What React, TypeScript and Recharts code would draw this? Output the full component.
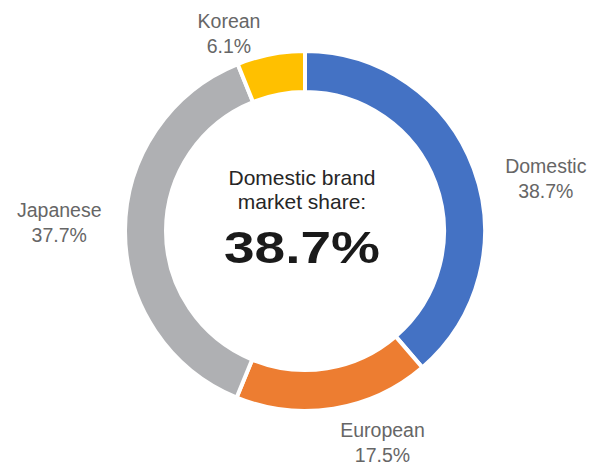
import React from "react";
import { PieChart, Pie, Cell } from "recharts";

// market share by brand origin (%)
const categories = ["Domestic", "European", "Japanese", "Korean"];
const shares = [38.7, 17.5, 37.7, 6.1];
const colors = ["#4472C4", "#ED7D31", "#AFB0B3", "#FFC000"];
const headline = ["Domestic brand", "market share:"];
const headlineValue = shares[0];

// label placement tweaks: angle shift (deg) and gap from ring (px)
const labelShift = [-8, 11, -2, 10];
const labelGap = [20, 11, 22, 2];

const data = categories.map((name, i) => ({ name, value: shares[i] }));

const W = 589;
const H = 464;
const CX = 305;
const CY = 231;
const RAD = Math.PI / 180;
const FONT = "'Liberation Sans', Arial, sans-serif";

const renderLabel = (props: any) => {
  const { cx, cy, midAngle, outerRadius, index } = props;
  const name: string = props.name ?? props.payload?.name;
  const value: number = props.value ?? props.payload?.value;
  const a = (midAngle + labelShift[index]) * RAD;
  const cos = Math.cos(a);
  const sin = Math.sin(a);
  const txt = value.toFixed(1) + "%";
  const w = Math.max(name.length, txt.length) * 10.8;
  const half = (Math.abs(cos) * w) / 2 + Math.abs(sin) * 20;
  const r = outerRadius + labelGap[index] + half;
  const x = cx + r * cos;
  const y = cy - r * sin;
  return (
    <text x={x} y={y} textAnchor="middle" fill="#666" fontSize={19.5} fontFamily={FONT}>
      <tspan x={x} y={y - 5}>{name}</tspan>
      <tspan x={x} y={y + 20}>{txt}</tspan>
    </text>
  );
};

const App: React.FC = () => {
  return (
    <div style={{ position: "absolute", left: 0, top: 0, width: W, height: H, background: "#fff" }}>
      <PieChart width={W} height={H} margin={{ top: 0, right: 0, bottom: 0, left: 0 }}>
        <Pie
          data={data}
          dataKey="value"
          nameKey="name"
          cx={CX}
          cy={CY}
          innerRadius={139}
          outerRadius={180}
          startAngle={90}
          endAngle={-270}
          stroke="#fff"
          strokeWidth={4}
          label={renderLabel}
          labelLine={false}
          isAnimationActive={false}
        >
          {data.map((d, i) => (
            <Cell key={d.name} fill={colors[i]} />
          ))}
        </Pie>
      </PieChart>
      {/* center caption */}
      <svg width={W} height={H} style={{ position: "absolute", left: 0, top: 0, pointerEvents: "none" }}>
        <text x={CX - 3} y={CY - 46} textAnchor="middle" fill="#262626" fontSize={21} fontFamily={FONT}>
          {headline[0]}
        </text>
        <text x={CX - 3} y={CY - 22} textAnchor="middle" fill="#262626" fontSize={21} fontFamily={FONT}>
          {headline[1]}
        </text>
        <text
          x={CX - 3}
          y={CY + 32}
          textAnchor="middle"
          fill="#1a1a1a"
          fontSize={44}
          fontWeight="bold"
          fontFamily={FONT}
          textLength={156}
          lengthAdjust="spacingAndGlyphs"
        >
          {headlineValue.toFixed(1) + "%"}
        </text>
      </svg>
    </div>
  );
};

export default App;
